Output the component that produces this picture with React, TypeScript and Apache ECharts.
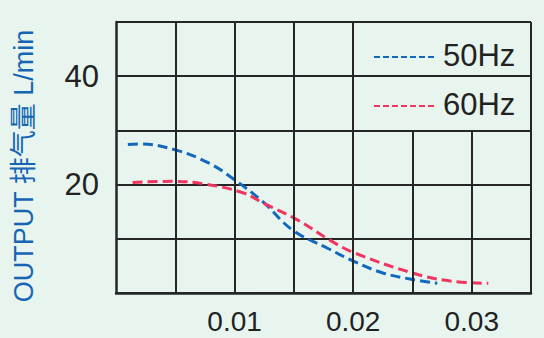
import React, { useEffect, useRef } from "react";
import * as echarts from "echarts";

const blueX = [0.001, 0.002, 0.005, 0.0078, 0.01, 0.0124, 0.0149, 0.0178, 0.02, 0.0225, 0.025, 0.0271];
const blueY = [27.4, 27.5, 26.4, 24.0, 20.9, 16.8, 11.6, 8.3, 5.9, 3.7, 2.5, 1.8];
const redX = [0.0014, 0.0047, 0.0075, 0.0107, 0.0124, 0.0153, 0.018, 0.02, 0.025, 0.0282, 0.0314];
const redY = [20.4, 20.6, 20.1, 18.5, 16.6, 13.5, 9.8, 7.5, 3.7, 2.2, 1.8];
const seriesNames = ["50Hz", "60Hz"];
const seriesColors = ["#1169bf", "#ef3560"];
const yTickLabels = [20, 40];
const xTickLabels = [0.01, 0.02, 0.03];
const fullVLines = [0.005, 0.01, 0.015, 0.02, 0.035];
const partialVLines = [0.025, 0.03];
const partialTop = 30;
const yName = "OUTPUT 排气量 L/min";

const GRID = "#262626";
const FONT = "'Liberation Sans', Arial, 'Noto Sans CJK SC', sans-serif";

export default function App() {
  const ref = useRef<HTMLDivElement>(null);
  useEffect(() => {
    if (!ref.current) return;
    const chart = echarts.init(ref.current, null, { renderer: "svg" });
    const vData: any[] = [];
    fullVLines.forEach((x) => vData.push([{ coord: [x, 0] }, { coord: [x, 50] }]));
    partialVLines.forEach((x) => vData.push([{ coord: [x, 0] }, { coord: [x, partialTop] }]));
    const legendGraphics: any[] = [];
    seriesNames.forEach((name, i) => {
      const cy = 57 + i * 49;
      legendGraphics.push({
        type: "line",
        shape: { x1: 374, y1: cy, x2: 435, y2: cy },
        style: { stroke: seriesColors[i], lineWidth: 2, lineDash: [6, 3] },
      });
      legendGraphics.push({
        type: "text",
        x: 443,
        y: cy - 2,
        style: {
          text: name,
          fontSize: 31,
          fill: "#222",
          fontFamily: FONT,
          align: "left",
          verticalAlign: "middle",
        },
      });
    });
    chart.setOption({
      animation: false,
      backgroundColor: "#e8f5ee",
      textStyle: { fontFamily: FONT },
      grid: { left: 116, right: 13, top: 22, bottom: 45 },
      xAxis: {
        type: "value",
        min: 0,
        max: 0.035,
        interval: 0.005,
        axisLine: { show: true, lineStyle: { color: GRID, width: 2.5 } },
        axisTick: { show: false },
        splitLine: { show: false },
        axisLabel: {
          margin: 14,
          fontSize: 28,
          color: "#222",
          fontFamily: FONT,
          formatter: (v: number) => {
            const hit = xTickLabels.find((t) => Math.abs(t - v) < 1e-9);
            return hit !== undefined ? hit.toFixed(2) : "";
          },
        },
      },
      yAxis: {
        type: "value",
        min: 0,
        max: 50,
        interval: 10,
        axisLine: { show: true, lineStyle: { color: GRID, width: 2.5 } },
        axisTick: { show: false },
        splitLine: { show: true, lineStyle: { color: GRID, width: 2 } },
        axisLabel: {
          margin: 17,
          fontSize: 31,
          color: "#222",
          fontFamily: FONT,
          padding: [8, 0, 0, 0],
          formatter: (v: number) => (yTickLabels.includes(v) ? String(v) : ""),
        },
      },
      graphic: [
        {
          type: "text",
          x: 24,
          y: 166,
          rotation: Math.PI / 2,
          style: {
            text: yName,
            fontSize: 27,
            fill: "#1565b4",
            fontFamily: FONT,
            align: "center",
            verticalAlign: "middle",
          },
        },
        ...legendGraphics,
      ],
      series: [
        {
          name: "grid-lines",
          type: "line",
          data: [],
          silent: true,
          z: 1,
          markLine: {
            silent: true,
            symbol: "none",
            label: { show: false },
            lineStyle: { color: GRID, width: 2, type: "solid" },
            data: vData,
          },
        },
        ...seriesNames.map((name, i) => ({
          name,
          type: "line",
          smooth: 0.4,
          showSymbol: false,
          symbol: "none",
          z: 3,
          data: (i === 0 ? blueX : redX).map((x, j) => [x, (i === 0 ? blueY : redY)[j]]),
          itemStyle: { color: seriesColors[i] },
          lineStyle: { color: seriesColors[i], width: 3, type: [10, 5] },
        })),
      ],
    });
    return () => chart.dispose();
  }, []);
  return (
    <div
      ref={ref}
      style={{ position: "fixed", left: 0, top: 0, width: 544, height: 338 }}
    />
  );
}
